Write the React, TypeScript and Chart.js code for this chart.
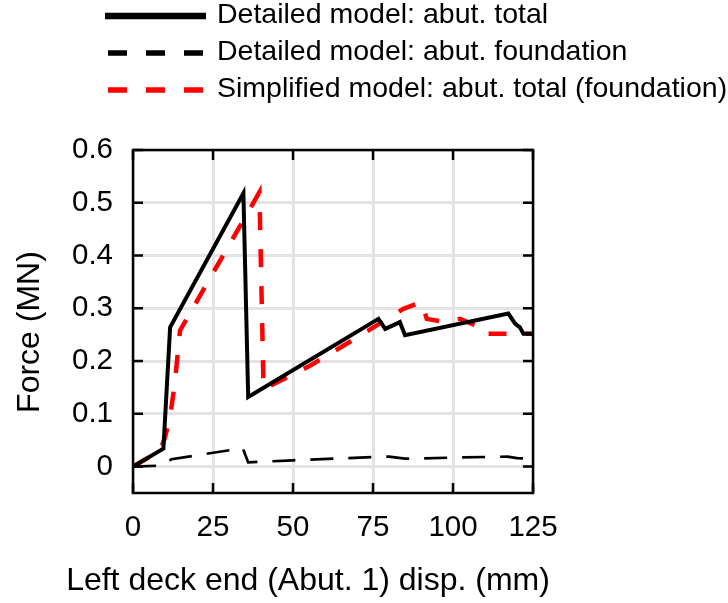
import React, { useEffect, useRef } from 'react';
import { Chart, registerables } from 'chart.js';

Chart.register(...registerables);

// ---- data ----
const xTicks = [0, 25, 50, 75, 100, 125];
const yTicks = [0, 0.1, 0.2, 0.3, 0.4, 0.5, 0.6];

const legendLabels = [
  'Detailed model: abut. total',
  'Detailed model: abut. foundation',
  'Simplified model: abut. total (foundation)',
];

const totalX = [0, 9.5, 11.6, 34.5, 36.0, 76.7, 78.8, 82.4, 83.4, 85.0, 117.3, 119.4, 120.9, 122.0, 125];
const totalY = [0, 0.034, 0.264, 0.518, 0.132, 0.280, 0.261, 0.271, 0.274, 0.249, 0.290, 0.271, 0.264, 0.252, 0.252];

const foundX = [0, 9, 12, 34.3, 36, 50, 75, 80, 85, 100, 117, 120, 125];
const foundY = [0, 0.002, 0.014, 0.035, 0.008, 0.012, 0.018, 0.019, 0.015, 0.017, 0.019, 0.016, 0.015];

const simpX = [0, 8.4, 10, 11.6, 13, 14.7, 39.5, 40.8, 55, 72, 80.3, 84.5, 90.2, 91.8, 97.5, 102.2, 106.9, 108.4, 125];
const simpY = [0, 0.03, 0.055, 0.095, 0.155, 0.258, 0.52, 0.147, 0.19, 0.252, 0.283, 0.299, 0.312, 0.28, 0.274, 0.28, 0.268, 0.252, 0.252];

const xMin = 0;
const xMax = 125;
const yMin = -0.05;
const yMax = 0.6;

const xTitle = 'Left deck end (Abut. 1) disp. (mm)';
const yTitle = 'Force (MN)';

const FONT = '"Liberation Sans", Arial, Helvetica, sans-serif';

function zip(xs: number[], ys: number[]) {
  return xs.map((x, i) => ({ x, y: ys[i] }));
}

export default function App() {
  const ref = useRef<HTMLCanvasElement>(null);

  useEffect(() => {
    if (!ref.current) return;

    const framePlugin = {
      id: 'frameTicks',
      afterDatasetsDraw(chart: any) {
        const { ctx, chartArea } = chart;
        const { left, right, top, bottom } = chartArea;
        const xs = chart.scales.x;
        const ys = chart.scales.y;
        ctx.save();
        ctx.strokeStyle = '#000';
        ctx.lineWidth = 2.5;
        ctx.beginPath();
        const tl = 10;
        xTicks.forEach((v) => {
          const p = xs.getPixelForValue(v);
          ctx.moveTo(p, bottom);
          ctx.lineTo(p, bottom - tl);
          ctx.moveTo(p, top);
          ctx.lineTo(p, top + tl);
        });
        yTicks.forEach((v) => {
          const p = ys.getPixelForValue(v);
          ctx.moveTo(left, p);
          ctx.lineTo(left + tl, p);
          ctx.moveTo(right, p);
          ctx.lineTo(right - tl, p);
        });
        ctx.stroke();
        ctx.strokeRect(left, top, right - left, bottom - top);
        ctx.restore();
      },
    };

    const legendPlugin = {
      id: 'customLegend',
      afterDraw(chart: any) {
        const { ctx } = chart;
        const rows = [16, 53, 90];
        ctx.save();
        chart.data.datasets.forEach((ds: any, i: number) => {
          const y = rows[i];
          ctx.strokeStyle = ds.borderColor;
          ctx.lineWidth = i === 0 ? 6.5 : 5.5;
          ctx.setLineDash(i === 0 ? [] : [19, 19]);
          ctx.beginPath();
          if (i === 0) {
            ctx.moveTo(105, y);
            ctx.lineTo(206, y);
          } else {
            ctx.moveTo(108, y);
            ctx.lineTo(204, y);
          }
          ctx.stroke();
          ctx.setLineDash([]);
          ctx.fillStyle = '#000';
          ctx.font = `28.5px ${FONT}`;
          ctx.textAlign = 'left';
          ctx.textBaseline = 'middle';
          ctx.fillText(ds.label, 217, y - 1);
        });
        ctx.restore();
      },
    };

    const titlePlugin = {
      id: 'axisTitles',
      afterDraw(chart: any) {
        const { ctx } = chart;
        ctx.save();
        ctx.fillStyle = '#000';
        ctx.font = `32px ${FONT}`;
        ctx.textAlign = 'center';
        ctx.textBaseline = 'middle';
        ctx.fillText(xTitle, 308, 581);
        ctx.translate(30, 332);
        ctx.rotate(-Math.PI / 2);
        ctx.fillText(yTitle, 0, 0);
        ctx.restore();
      },
    };

    const chart = new Chart(ref.current, {
      type: 'line',
      data: {
        datasets: [
          {
            label: legendLabels[0],
            data: zip(totalX, totalY),
            borderColor: '#000000',
            borderWidth: 4,
            pointRadius: 0,
            tension: 0,
            fill: false,
          },
          {
            label: legendLabels[1],
            data: zip(foundX, foundY),
            borderColor: '#000000',
            borderWidth: 2.7,
            borderDash: [23, 15],
            pointRadius: 0,
            tension: 0,
            fill: false,
          },
          {
            label: legendLabels[2],
            data: zip(simpX, simpY),
            borderColor: '#ff0000',
            borderWidth: 4.5,
            borderDash: [18, 19],
            pointRadius: 0,
            tension: 0,
            fill: false,
          },
        ],
      },
      options: {
        responsive: false,
        animation: false,
        devicePixelRatio: 1,
        layout: { padding: { top: 150, left: 0, right: 195, bottom: 0 } },
        plugins: {
          legend: { display: false },
          tooltip: { enabled: false },
        },
        scales: {
          x: {
            type: 'linear',
            min: xMin,
            max: xMax,
            afterFit: (s: any) => {
              s.height = 110;
            },
            afterBuildTicks: (s: any) => {
              s.ticks = xTicks.map((v) => ({ value: v }));
            },
            ticks: {
              padding: 17,
              color: '#000',
              font: { family: FONT, size: 29.5 },
              maxRotation: 0,
              autoSkip: false,
              callback: (v: any) => String(v),
            },
            grid: { color: '#e3e3e3', lineWidth: 3, drawTicks: false },
            border: { display: false },
          },
          y: {
            type: 'linear',
            min: yMin,
            max: yMax,
            afterFit: (s: any) => {
              s.width = 133;
            },
            afterBuildTicks: (s: any) => {
              s.ticks = yTicks.map((v) => ({ value: v }));
            },
            ticks: {
              padding: 20,
              color: '#000',
              font: { family: FONT, size: 29.5 },
              autoSkip: false,
              callback: (v: any) => (Math.abs(v) < 1e-9 ? '0' : Number(v).toFixed(1)),
            },
            grid: { color: '#e3e3e3', lineWidth: 3, drawTicks: false },
            border: { display: false },
          },
        },
      },
      plugins: [framePlugin, legendPlugin, titlePlugin],
    });

    return () => chart.destroy();
  }, []);

  return (
    <canvas
      ref={ref}
      width={728}
      height={603}
      style={{ position: 'absolute', left: 0, top: 0, width: 728, height: 603 }}
    />
  );
}
